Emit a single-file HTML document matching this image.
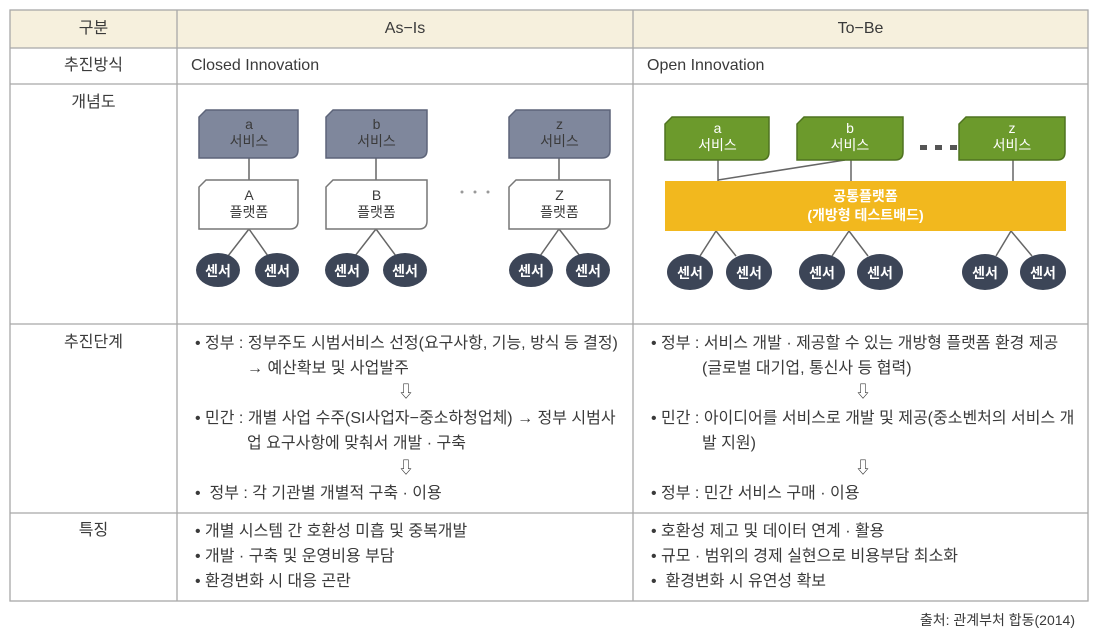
<!DOCTYPE html>
<html><head><meta charset="utf-8"><style>
body{margin:0;width:1094px;height:638px;background:#fff;position:relative;overflow:hidden;font-family:"Liberation Sans","Noto Sans CJK KR",sans-serif;color:#3a3a3a;}
.t{position:absolute;font-size:16px;letter-spacing:0px;white-space:nowrap;line-height:20px;}
.c{text-align:center;}
svg{position:absolute;left:0;top:0;}
</style></head><body>
<svg width="1094" height="638">
<rect x="10" y="10" width="1078" height="38" fill="#f6f0dd"/>
<g stroke="#a8a8a8" stroke-width="1.3" fill="none">
<rect x="10" y="10" width="1078" height="591"/>
<line x1="10" y1="48" x2="1088" y2="48"/>
<line x1="10" y1="84" x2="1088" y2="84"/>
<line x1="10" y1="324" x2="1088" y2="324"/>
<line x1="10" y1="513" x2="1088" y2="513"/>
<line x1="177" y1="10" x2="177" y2="601"/>
<line x1="633" y1="10" x2="633" y2="601"/>
</g>
<g stroke="#666" stroke-width="1.5">
<line x1="249" y1="158" x2="249" y2="180"/><line x1="376" y1="158" x2="376" y2="180"/><line x1="559" y1="158" x2="559" y2="180"/>
<line x1="249" y1="229" x2="228" y2="256"/><line x1="249" y1="229" x2="268" y2="256"/>
<line x1="376" y1="229" x2="355" y2="256"/><line x1="376" y1="229" x2="396" y2="256"/>
<line x1="559" y1="229" x2="540" y2="256"/><line x1="559" y1="229" x2="580" y2="256"/>
</g>
<g fill="#7f879c" stroke="#5d6479" stroke-width="1.5">
<path d="M206 110 H298 V150 Q298 158 290 158 H199 V117 Z"/>
<path d="M333 110 H427 V150 Q427 158 419 158 H326 V117 Z"/>
<path d="M516 110 H610 V150 Q610 158 602 158 H509 V117 Z"/>
</g>
<g fill="#fff" stroke="#777" stroke-width="1.5">
<path d="M206 180 H298 V221 Q298 229 290 229 H199 V187 Z"/>
<path d="M333 180 H427 V221 Q427 229 419 229 H326 V187 Z"/>
<path d="M516 180 H610 V221 Q610 229 602 229 H509 V187 Z"/>
</g>
<g fill="#3c4557">
<ellipse cx="218" cy="270" rx="22" ry="17"/><ellipse cx="277" cy="270" rx="22" ry="17"/>
<ellipse cx="347" cy="270" rx="22" ry="17"/><ellipse cx="405" cy="270" rx="22" ry="17"/>
<ellipse cx="531" cy="270" rx="22" ry="17"/><ellipse cx="588" cy="270" rx="22" ry="17"/>
</g>
<g fill="#999"><circle cx="462" cy="192" r="1.5"/><circle cx="475" cy="192" r="1.5"/><circle cx="488" cy="192" r="1.5"/></g>
<g stroke="#666" stroke-width="1.5">
<line x1="718" y1="160" x2="718" y2="181"/><line x1="851" y1="160" x2="851" y2="181"/><line x1="1013" y1="160" x2="1013" y2="181"/>
<line x1="718" y1="180" x2="845" y2="160"/>
<line x1="716" y1="231" x2="700" y2="256"/><line x1="716" y1="231" x2="736" y2="256"/>
<line x1="849" y1="231" x2="832" y2="256"/><line x1="849" y1="231" x2="868" y2="256"/>
<line x1="1011" y1="231" x2="996" y2="256"/><line x1="1011" y1="231" x2="1032" y2="256"/>
</g>
<g fill="#6c9a2c" stroke="#4f7320" stroke-width="1.5">
<path d="M672 117 H769 V152 Q769 160 761 160 H665 V124 Z"/>
<path d="M804 117 H903 V152 Q903 160 895 160 H797 V124 Z"/>
<path d="M966 117 H1065 V152 Q1065 160 1057 160 H959 V124 Z"/>
</g>
<rect x="665" y="181" width="401" height="50" fill="#f2b81e"/>
<g fill="#3c4557">
<ellipse cx="690" cy="272" rx="23" ry="18"/><ellipse cx="749" cy="272" rx="23" ry="18"/>
<ellipse cx="822" cy="272" rx="23" ry="18"/><ellipse cx="880" cy="272" rx="23" ry="18"/>
<ellipse cx="985" cy="272" rx="23" ry="18"/><ellipse cx="1043" cy="272" rx="23" ry="18"/>
</g>
<g fill="#555"><rect x="920" y="145" width="7" height="5"/><rect x="935" y="145" width="7" height="5"/><rect x="950" y="145" width="7" height="5"/></g>
</svg>
<div class="t c" style="left:10px;width:167px;top:19px;">구분</div>
<div class="t c" style="left:177px;width:456px;top:19px;">As−Is</div>
<div class="t c" style="left:633px;width:455px;top:19px;">To−Be</div>
<div class="t c" style="left:10px;width:167px;top:56px;">추진방식</div>
<div class="t" style="left:191px;top:56px;">Closed Innovation</div>
<div class="t" style="left:647px;top:56px;">Open Innovation</div>
<div class="t c" style="left:10px;width:167px;top:93px;">개념도</div>
<div class="t c" style="left:10px;width:167px;top:333px;">추진단계</div>
<div class="t c" style="left:10px;width:167px;top:521px;">특징</div>
<div class="t c" style="left:199px;width:100px;top:116px;font-size:14px;line-height:17px;">a<br>서비스</div>
<div class="t c" style="left:326px;width:101px;top:116px;font-size:14px;line-height:17px;">b<br>서비스</div>
<div class="t c" style="left:509px;width:101px;top:116px;font-size:14px;line-height:17px;">z<br>서비스</div>
<div class="t c" style="left:199px;width:100px;top:187px;font-size:14px;line-height:17px;">A<br>플랫폼</div>
<div class="t c" style="left:326px;width:101px;top:187px;font-size:14px;line-height:17px;">B<br>플랫폼</div>
<div class="t c" style="left:509px;width:101px;top:187px;font-size:14px;line-height:17px;">Z<br>플랫폼</div>
<div class="t c" style="left:665px;width:105px;top:120px;font-size:14px;line-height:17px;color:#fff;">a<br>서비스</div>
<div class="t c" style="left:797px;width:106px;top:120px;font-size:14px;line-height:17px;color:#fff;">b<br>서비스</div>
<div class="t c" style="left:959px;width:106px;top:120px;font-size:14px;line-height:17px;color:#fff;">z<br>서비스</div>
<div class="t c" style="left:665px;width:401px;top:187px;font-size:14px;line-height:19px;color:#fff;font-weight:bold;">공통플랫폼<br>(개방형 테스트배드)</div>
<div class="t" style="top:261px;left:196px;font-size:14px;color:#fff;font-weight:bold;width:44px;text-align:center;">센서</div>
<div class="t" style="top:261px;left:255px;font-size:14px;color:#fff;font-weight:bold;width:44px;text-align:center;">센서</div>
<div class="t" style="top:261px;left:325px;font-size:14px;color:#fff;font-weight:bold;width:44px;text-align:center;">센서</div>
<div class="t" style="top:261px;left:383px;font-size:14px;color:#fff;font-weight:bold;width:44px;text-align:center;">센서</div>
<div class="t" style="top:261px;left:509px;font-size:14px;color:#fff;font-weight:bold;width:44px;text-align:center;">센서</div>
<div class="t" style="top:261px;left:566px;font-size:14px;color:#fff;font-weight:bold;width:44px;text-align:center;">센서</div>
<div class="t" style="top:263px;left:668px;font-size:14px;color:#fff;font-weight:bold;width:44px;text-align:center;">센서</div>
<div class="t" style="top:263px;left:727px;font-size:14px;color:#fff;font-weight:bold;width:44px;text-align:center;">센서</div>
<div class="t" style="top:263px;left:800px;font-size:14px;color:#fff;font-weight:bold;width:44px;text-align:center;">센서</div>
<div class="t" style="top:263px;left:858px;font-size:14px;color:#fff;font-weight:bold;width:44px;text-align:center;">센서</div>
<div class="t" style="top:263px;left:963px;font-size:14px;color:#fff;font-weight:bold;width:44px;text-align:center;">센서</div>
<div class="t" style="top:263px;left:1021px;font-size:14px;color:#fff;font-weight:bold;width:44px;text-align:center;">센서</div>
<div class="t" style="left:195px;top:334px;">• 정부 : 정부주도 시범서비스 선정(요구사항, 기능, 방식 등 결정)</div>
<div class="t" style="left:247px;top:359px;">→ 예산확보 및 사업발주</div>
<div class="t" style="left:398px;top:383px;">⇩</div>
<div class="t" style="left:195px;top:409px;">• 민간 : 개별 사업 수주(SI사업자−중소하청업체) → 정부 시범사</div>
<div class="t" style="left:247px;top:434px;">업 요구사항에 맞춰서 개발 · 구축</div>
<div class="t" style="left:398px;top:459px;">⇩</div>
<div class="t" style="left:195px;top:484px;">•&nbsp; 정부 : 각 기관별 개별적 구축 · 이용</div>
<div class="t" style="left:651px;top:334px;">• 정부 : 서비스 개발 · 제공할 수 있는 개방형 플랫폼 환경 제공</div>
<div class="t" style="left:702px;top:359px;">(글로벌 대기업, 통신사 등 협력)</div>
<div class="t" style="left:855px;top:383px;">⇩</div>
<div class="t" style="left:651px;top:409px;">• 민간 : 아이디어를 서비스로 개발 및 제공(중소벤처의 서비스 개</div>
<div class="t" style="left:702px;top:434px;">발 지원)</div>
<div class="t" style="left:855px;top:459px;">⇩</div>
<div class="t" style="left:651px;top:484px;">• 정부 : 민간 서비스 구매 · 이용</div>
<div class="t" style="left:195px;top:522px;">• 개별 시스템 간 호환성 미흡 및 중복개발</div>
<div class="t" style="left:195px;top:547px;">• 개발 · 구축 및 운영비용 부담</div>
<div class="t" style="left:195px;top:572px;">• 환경변화 시 대응 곤란</div>
<div class="t" style="left:651px;top:522px;">• 호환성 제고 및 데이터 연계 · 활용</div>
<div class="t" style="left:651px;top:547px;">• 규모 · 범위의 경제 실현으로 비용부담 최소화</div>
<div class="t" style="left:651px;top:572px;">•&nbsp; 환경변화 시 유연성 확보</div>
<div class="t" style="right:19px;top:610px;font-size:14px;">출처: 관계부처 합동(2014)</div>
</body></html>
